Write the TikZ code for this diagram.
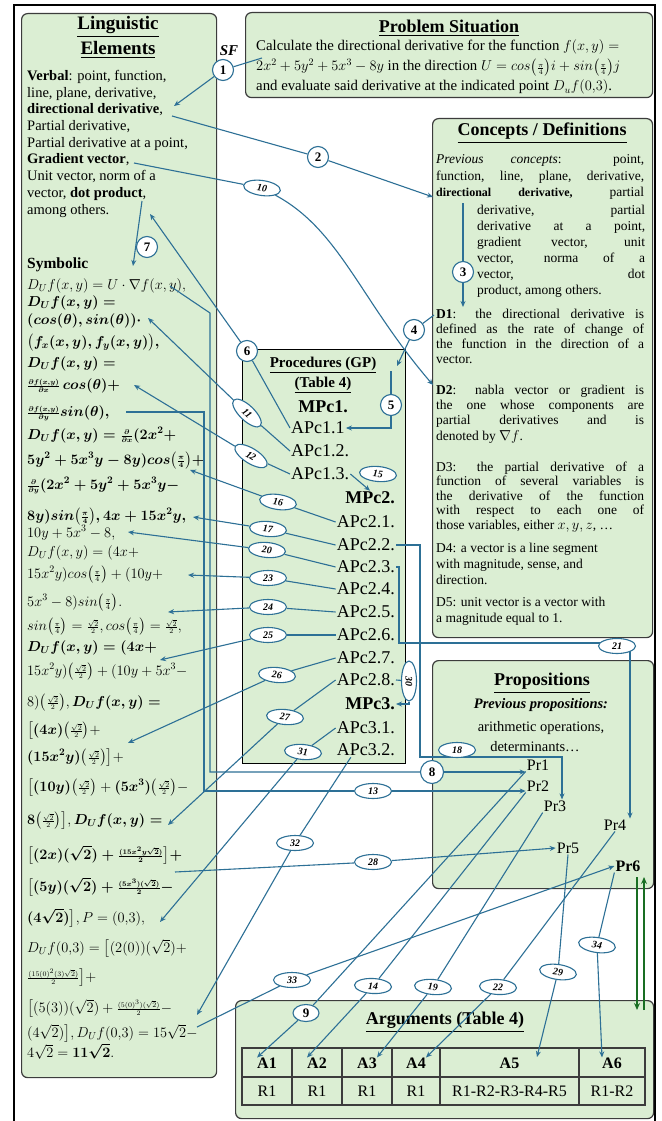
\documentclass[tikz,border=0pt]{standalone}
\usepackage{amsmath}
\usepackage{fontspec}
\setmainfont{Liberation Serif}
\usetikzlibrary{arrows.meta, positioning, shapes.geometric}
\definecolor{panelgreen}{RGB}{219,238,211}
\definecolor{paneledge}{RGB}{60,60,60}
\definecolor{linkblue}{RGB}{45,112,150}
\definecolor{pairgreen}{RGB}{25,110,35}
\newcommand{\jline}[2][208pt]{\makebox[#1][s]{#2}}
\newcommand{\hd}[1]{\underline{#1}}
\newcommand{\sfr}[2]{{\scriptstyle\frac{#1}{#2}}}
\newcommand{\qpi}{\bigl(\sfr{\pi}{4}\bigr)}
\newcommand{\hsq}{\bigl(\sfr{\sqrt{2}}{2}\bigr)}
\newcommand{\bb}[1]{\boldsymbol{#1}}

\begin{document}
\begin{tikzpicture}[x=1pt, y=-1pt,
    panel/.style={rectangle, rounded corners=6pt, draw=paneledge, line width=1.2pt,
                  fill=panelgreen, anchor=north west, inner sep=0},
    title/.style={font=\fontsize{18}{20}\selectfont\bfseries, align=center, inner sep=0},
    vtext/.style={font=\fontsize{14.5}{16.7}\selectfont, align=left, anchor=north west, inner sep=0},
    cblock/.style={align=left, anchor=north west, inner sep=0},
    mline/.style={font=\fontsize{14}{15}\selectfont, anchor=base west, inner sep=0},
    ptext/.style={font=\fontsize{14.8}{16}\selectfont, anchor=base west, inner sep=0},
    apc/.style={font=\fontsize{18}{20}\selectfont, inner sep=1pt},
    prop/.style={font=\fontsize{16}{18}\selectfont, inner sep=1pt},
    cell/.style={font=\fontsize{16}{18}\selectfont, inner sep=0},
    num/.style={circle, draw=linkblue, line width=1.1pt, fill=white,
                font=\fontsize{13}{13}\selectfont\bfseries, inner sep=0, minimum size=21},
    tag/.style={ellipse, draw=linkblue, line width=1.1pt, fill=white,
                font=\fontsize{10}{10}\selectfont\bfseries\itshape, inner sep=0,
                minimum width=37, minimum height=15},
    link/.style={draw=linkblue, line width=1.1pt},
    arr/.style={link, -{Stealth[length=6pt, width=5pt]}},
    pairarr/.style={draw=pairgreen, line width=2pt, -{Stealth[length=7pt, width=6pt]}}
  ]
  \useasboundingbox (0,0) rectangle (661,1121);
  \fill[white] (0,0) rectangle (661,1121);
  \draw[line width=1.5pt] (14,1121) -- (14,5) -- (655,5) -- (655,1121);

  % panels
  \node[panel, minimum width=195, minimum height=1064] (ling) at (21,13) {};
  \node[panel, minimum width=407, minimum height=85] (prob) at (245,12) {};
  \node[panel, minimum width=220, minimum height=519] (conc) at (432,118) {};
  \node[panel, sharp corners, draw=black, minimum width=163, minimum height=414] (proc) at (242,349) {};
  \node[panel, minimum width=221, minimum height=228] (props) at (432,660) {};
  \node[panel, minimum width=418, minimum height=118] (args) at (235,1000) {};

  % linguistic elements
  \node[title, font=\fontsize{19}{25}\selectfont\bfseries] (lingtitle) at (118,37) {\hd{Linguistic}\\\hd{Elements}};
  \node[vtext] (verbal) at (27,70) {\textbf{Verbal}: point, function,\\ line, plane, derivative,\\
    \textbf{directional derivative},\\ Partial derivative,\\ Partial derivative at a point,\\
    \textbf{Gradient vector},\\ Unit vector, norm of a\\ vector, \textbf{dot product},\\ among others.};
  \node[font=\fontsize{15.5}{16}\selectfont\bfseries, anchor=base west, inner sep=0] (symb) at (27,268) {Symbolic};
  \node[mline] (s1) at (27,289) {$D_U f(x,y)=U\cdot\nabla f(x,y),$};
  \node[mline] (s2) at (27,306) {$\bb{D_U f(x,y)=}$};
  \node[mline] (s3) at (27,324) {$\bb{(cos(\theta), sin(\theta))\cdot}$};
  \node[mline] (s4) at (27,346) {$\bb{\bigl(f_x(x,y), f_y(x,y)\bigr),}$};
  \node[mline] (s5) at (27,367) {$\bb{D_U f(x,y)=}$};
  \node[mline] (s6) at (27,389) {$\bb{\sfr{\partial f(x,y)}{\partial x}\,cos(\theta)+}$};
  \node[mline] (s7) at (27,416) {$\bb{\sfr{\partial f(x,y)}{\partial y}sin(\theta),}$};
  \node[mline] (s8) at (27,439) {$\bb{D_U f(x,y)=\sfr{\partial}{\partial x}(2x^2+}$};
  \node[mline] (s9) at (27,464) {$\bb{5y^2+5x^3y-8y)cos\qpi+}$};
  \node[mline] (s10) at (27,489) {$\bb{\sfr{\partial}{\partial y}(2x^2+5y^2+5x^3y-}$};
  \node[mline] (s11) at (27,520) {$\bb{8y)sin\qpi, 4x+15x^2y,}$};
  \node[mline] (s12) at (27,537) {$10y+5x^3-8,$};
  \node[mline] (s13) at (27,556) {$D_U f(x,y)=(4x+$};
  \node[mline] (s14) at (27,578) {$15x^2y)cos\qpi+(10y+$};
  \node[mline] (s15) at (27,606) {$5x^3-8)sin\qpi.$};
  \node[mline] (s16) at (27,630) {$sin\qpi=\sfr{\sqrt{2}}{2}, cos\qpi=\sfr{\sqrt{2}}{2},$};
  \node[mline] (s17) at (27,651) {$\bb{D_U f(x,y)=(4x+}$};
  \node[mline] (s18) at (27,675) {$15x^2y)\hsq+(10y+5x^3-$};
  \node[mline] (s19) at (27,706) {$8)\hsq,\bb{D_U f(x,y)=}$};
  \node[mline] (s20) at (27,734) {$\bigl[\bb{(4x)}\hsq+$};
  \node[mline] (s21) at (27,761) {$\bb{(15x^2y)}\hsq\bigr]+$};
  \node[mline] (s22) at (27,791) {$\bigl[\bb{(10y)}\hsq+\bb{(5x^3)}\hsq-$};
  \node[mline] (s23) at (27,824) {$\bb{8}\hsq\bigr], \bb{D_U f(x,y)=}$};
  \node[mline] (s24) at (27,859) {$\bb{\bigl[(2x)(\sqrt{2})+\sfr{(15x^2y\sqrt{2})}{2}\bigr]+}$};
  \node[mline] (s25) at (27,891) {$\bb{\bigl[(5y)(\sqrt{2})+\sfr{(5x^3)(\sqrt{2})}{2}-}$};
  \node[mline] (s26) at (27,922) {$\bb{(4\sqrt{2})\bigr]}, P=(0{,}3),$};
  \node[mline] (s27) at (27,952) {$D_U f(0{,}3)=\bigl[(2(0))(\sqrt{2})+$};
  \node[mline] (s28) at (27,981) {$\sfr{(15(0)^2(3)\sqrt{2})}{2}\bigr]+$};
  \node[mline] (s29) at (27,1012) {$\bigl[(5(3))(\sqrt{2})+\sfr{(5(0)^3)(\sqrt{2})}{2}-$};
  \node[mline] (s30) at (27,1037) {$(4\sqrt{2})\bigr], D_U f(0{,}3)=15\sqrt{2}-$};
  \node[mline] (s31) at (27,1057) {$4\sqrt{2}=\bb{11\sqrt{2}}.$};

  % problem situation
  \node[font=\fontsize{15}{15}\selectfont\bfseries\itshape] (sf) at (229,51) {SF};
  \node[title] (probtitle) at (449,28) {\hd{Problem Situation}};
  \node[ptext] (p1) at (256,51) {Calculate the directional derivative for the function $f(x,y)=$};
  \node[ptext] (p2) at (256,71) {$2x^2+5y^2+5x^3-8y$ in the direction $U=cos\qpi i+sin\qpi j$};
  \node[ptext] (p3) at (256,91) {and evaluate said derivative at the indicated point $D_uf(0{,}3)$.};

  % concepts / definitions
  \node[title] (conctitle) at (542,133) {\hd{Concepts / Definitions}};
  \node[cblock, font=\fontsize{13.5}{16.5}\selectfont] (prevc) at (436,154.7) {%
    \jline{\textit{Previous concepts}: point,}\\
    \jline{function, line, plane, derivative,}\\
    \jline{{\fontsize{12}{14}\selectfont\bfseries directional derivative,} partial}};
  \node[cblock, font=\fontsize{13.5}{16}\selectfont] (prevd) at (477,204.7) {%
    \jline[168pt]{derivative, partial}\\ \jline[168pt]{derivative at a point,}\\
    \jline[168pt]{gradient vector, unit}\\ \jline[168pt]{vector, norma of a}\\
    \jline[168pt]{vector, dot}\\ product, among others.};
  \node[cblock, font=\fontsize{13.5}{15}\selectfont] (def1) at (436,308.7) {%
    \jline{\textbf{D1}: the directional derivative is}\\
    \jline{defined as the rate of change of}\\
    \jline{the function in the direction of a}\\ vector.};
  \node[cblock, font=\fontsize{13.5}{15.3}\selectfont] (def2) at (436,384.7) {%
    \jline{\textbf{D2}: nabla vector or gradient is}\\
    \jline{the one whose components are}\\
    \jline{partial derivatives and is}\\ denoted by $\nabla f$.};
  \node[cblock, font=\fontsize{13.5}{14.5}\selectfont] (def3) at (436,461.7) {%
    \jline{D3: the partial derivative of a}\\
    \jline{function of several variables is}\\
    \jline{the derivative of the function}\\
    \jline{with respect to each one of}\\ those variables, either $x, y, z$, \dots};
  \node[cblock, font=\fontsize{13.5}{16}\selectfont] (def4) at (436,542.7) {%
    D4: a vector is a line segment\\ with magnitude, sense, and\\ direction.};
  \node[cblock, font=\fontsize{13.5}{16}\selectfont] (def5) at (436,596.7) {%
    D5: unit vector is a vector with\\ a magnitude equal to 1.};

  % procedures
  \node[title, font=\fontsize{15}{20}\selectfont\bfseries] (proctitle) at (323,375) {\hd{Procedures (GP)}\\\hd{(Table 4)}};
  \node[apc, font=\fontsize{18}{20}\selectfont\bfseries] (mpc1) at (323,407) {MPc1.};
  \node[apc, anchor=west] (apc11) at (290,428) {APc1.1};
  \node[apc, anchor=west] (apc12) at (290,451) {APc1.2.};
  \node[apc, anchor=west] (apc13) at (290,474) {APc1.3.};
  \node[apc, anchor=east, font=\fontsize{18}{20}\selectfont\bfseries] (mpc2) at (396,498) {MPc2.};
  \foreach \b/\y in {1/522,2/545,3/567,4/589,5/612,6/635,7/658,8/680}
    \node[apc, anchor=east] (apc2\b) at (396,\y) {APc2.\b.};
  \node[apc, anchor=east, font=\fontsize{18}{20}\selectfont\bfseries] (mpc3) at (396,704) {MPc3.};
  \foreach \b/\y in {1/728,2/750}
    \node[apc, anchor=east] (apc3\b) at (396,\y) {APc3.\b.};

  % propositions
  \node[title] (proptitle) at (542,683) {\hd{Propositions}};
  \node[font=\fontsize{14.5}{16}\selectfont\bfseries\itshape] (prevprop) at (541,705) {Previous propositions:};
  \node[font=\fontsize{14.5}{16}\selectfont] (arith) at (541,728) {arithmetic operations,};
  \node[font=\fontsize{14.5}{16}\selectfont] (determ) at (535,747) {determinants\dots};
  \node[prop] (pr1) at (538,765) {Pr1};
  \node[prop] (pr2) at (538,786) {Pr2};
  \node[prop] (pr3) at (555,806) {Pr3};
  \node[prop] (pr4) at (615,825) {Pr4};
  \node[prop] (pr5) at (568,848) {Pr5};
  \node[prop, font=\fontsize{16}{18}\selectfont\bfseries] (pr6) at (628,866) {Pr6};

  % arguments
  \node[title] (argtitle) at (445,1022) {\hd{Arguments (Table 4)}};
  \draw[line width=1.2pt, draw=paneledge] (242,1048) rectangle (645,1105);
  \draw[line width=1.2pt, draw=paneledge] (242,1077) -- (645,1077);
  \foreach \x in {292,342,392,440,579}
    \draw[line width=1.2pt, draw=paneledge] (\x,1048) -- (\x,1105);
  \foreach \x/\lab [count=\i] in {267/A1,317/A2,367/A3,416/A4,509.5/A5,612/A6}
    \node[cell, font=\fontsize{16}{18}\selectfont\bfseries] (a\i) at (\x,1063) {\lab};
  \foreach \x/\lab [count=\i] in {267/R1,317/R1,367/R1,416/R1,509.5/R1-R2-R3-R4-R5,612/R1-R2}
    \node[cell] (r\i) at (\x,1091) {\lab};

  % numbered marks
  \node[num] (n1) at (223,70) {1};
  \node[num] (n2) at (318,157) {2};
  \node[num] (n3) at (463,272) {3};
  \node[num] (n4) at (414,330) {4};
  \node[num] (n5) at (391,405) {5};
  \node[num] (n6) at (247,351) {6};
  \node[num, minimum size=23] (n8) at (432,772) {8};
  \node[tag, font=\fontsize{13}{13}\selectfont\bfseries, minimum width=26, minimum height=17] (e9) at (306,1013) {9};
  \node[tag, rotate=-8] (e10) at (262,188) {10};
  \node[tag, rotate=-44] (e11) at (247,413) {11};
  \node[tag, rotate=-32] (e12) at (251,456) {12};
  \node[tag] (e13) at (373,791) {13};
  \node[tag, rotate=-3] (e14) at (373,986) {14};
  \node[tag, rotate=-8] (e16) at (278,502) {16};
  \node[tag, rotate=-5] (e17) at (268,529) {17};
  \node[tag, rotate=-5] (e19) at (433,987) {19};
  \node[tag, rotate=-5] (e20) at (267,550) {20};
  \node[tag, rotate=-3] (e22) at (498,987) {22};
  \node[tag] (e23) at (268,578) {23};
  \node[tag] (e24) at (268,607) {24};
  \node[tag] (e25) at (268,635) {25};
  \node[tag, rotate=-5] (e26) at (277,675) {26};
  \node[tag, rotate=-5] (e27) at (285,717) {27};
  \node[tag] (e28) at (373,862) {28};
  \node[tag, rotate=-8] (e29) at (558,972) {29};
  \node[tag, rotate=-90, minimum width=40] (e30) at (409,681) {30};
  \node[tag, rotate=-5] (e31) at (303,752) {31};
  \node[tag] (e32) at (295,843) {32};
  \node[tag] (e33) at (292,980) {33};
  \node[tag, rotate=-8] (e34) at (597,945) {34};

  % text anchors
  \coordinate (c1a) at (262,58);   \coordinate (c1b) at (174,106);
  \coordinate (c2a) at (172,116);  \coordinate (c2b) at (433,197);
  \coordinate (c3a) at (463,203);  \coordinate (c3b) at (463,307);
  \coordinate (c4a) at (434,315);  \coordinate (c4b) at (397,366);
  \coordinate (c5a) at (391,371);  \coordinate (c6) at (150,214);
  \coordinate (c7a) at (142,201);  \coordinate (c7b) at (133,266);
  \coordinate (c8) at (170,286);
  \coordinate (c10a) at (134,163); \coordinate (c10b) at (433,385);
  \coordinate (c11) at (148,318);  \coordinate (c12) at (134,385);
  \coordinate (c13) at (126,412);  \coordinate (c16) at (190,470);
  \coordinate (c17) at (193,517);  \coordinate (c20) at (128,532);
  \coordinate (c23) at (188,575);  \coordinate (c24) at (168,612);
  \coordinate (c25) at (160,660);  \coordinate (c26) at (128,743);
  \coordinate (c27) at (168,825);  \coordinate (c28) at (175,872);
  \coordinate (c31) at (160,922);  \coordinate (c32) at (197,1015);
  \coordinate (c33) at (197,1027); \coordinate (a5tip) at (537,1057);
  \coordinate (k18) at (562,757);  \coordinate (k21) at (630,643);
  \coordinate (g1) at (637,877);   \coordinate (g2) at (637,1010);
  \coordinate (g3) at (644,1010);  \coordinate (g4) at (644,877);

  % connectors
  \draw[link] (c1a) -- (n1);  \draw[arr] (n1) -- (c1b);
  \draw[link] (c2a) -- (n2);  \draw[arr] (n2) -- (c2b);
  \draw[link] (c3a) -- (n3);  \draw[arr] (n3) -- (c3b);
  \draw[link] (c4a) -- (n4);  \draw[arr] (n4) -- (c4b);
  \draw[link] (c5a) -- (n5);  \draw[arr] (n5) |- (apc11.east);
  \draw[link] (apc11.west) -- (n6);  \draw[arr] (n6) -- (c6);
  \draw[arr] (c7a) -- (c7b);
  \draw[link] (c8) -- ++(40,27) |- (n8);  \draw[arr] (n8) -- (n8 -| pr1.west);
  \draw[link] (c10a) -- (e10);
  \draw[arr] (e10) .. controls (340,230) and (360,300) .. (c10b);
  \draw[link] (apc12.west) -- (e11);  \draw[arr] (e11) -- (c11);
  \draw[link] (apc13.west) -- (e12);  \draw[arr] (e12) -- (c12);
  \draw[link] (c13) -- ++(78,0) |- (e13);  \draw[arr] (e13) -- (e13 -| pr2.west);
  \draw[arr] (apc13.east) -- (mpc2.north);
  \draw[link] (apc21.west) -- (e16);  \draw[arr] (e16) -- (c16);
  \draw[link] (apc22.west) -- (e17);  \draw[arr] (e17) -- (c17);
  \draw[link] (apc23.west) -- (e20);  \draw[arr] (e20) -- (c20);
  \draw[link] (apc24.west) -- (e23);  \draw[arr] (e23) -- (c23);
  \draw[link] (apc25.west) -- (e24);  \draw[arr] (e24) -- (c24);
  \draw[link] (apc26.west) -- (e25);  \draw[arr] (e25) -- (c25);
  \draw[link] (apc27.west) -- (e26);  \draw[arr] (e26) -- (c26);
  \draw[link] (apc28.west) -- (e27);  \draw[arr] (e27) -- (c27);
  \draw[link] (apc31.west) -- (e31);  \draw[arr] (e31) -- (c31);
  \draw[link] ([xshift=-15pt]apc32.south) -- (e32);  \draw[arr] (e32) -- (c32);
  \draw[arr] (apc22.east) -| (420,757) -- (k18) -- (k18 |- pr3.north);
  \draw[arr] (apc23.east) -| (399,643) -- (k21) -- (k21 |- pr4.north);
  \draw[link] (apc28.east) -- (e30);  \draw[arr] (e30.east) |- (mpc3.east);
  \draw[link] (c28) -- (e28);  \draw[arr] (e28) -- (pr5.west);
  \draw[link] (c33) -- (e33);  \draw[arr] (e33) -- (pr6.west);
  \draw[link] (pr1.south west) -- (e9);   \draw[arr] (e9) -- (a1.north west);
  \draw[link] (pr2.south west) -- (e14);  \draw[arr] (e14) -- (a2.north west);
  \draw[link] (pr3.south west) -- (e19);  \draw[arr] (e19) -- (a3.north east);
  \draw[link] (pr4.south) -- (e22);       \draw[arr] (e22) -- (a4.north east);
  \draw[link] (pr5.south) -- (e29);       \draw[arr] (e29) -- (a5tip);
  \draw[link] (pr6.south west) -- (e34);  \draw[arr] (e34) -- (a6.north west);
  \draw[pairarr] (g1) -- (g2);
  \draw[pairarr] (g3) -- (g4);

  % marks sitting beside their lines
  \node[num] (n7) at (147,247) {7};
  \node[tag, rotate=-5] (e15) at (378,474) {15};
  \node[tag] (e18) at (457,750) {18};
  \node[tag] (e21) at (617,646) {21};
\end{tikzpicture}
\end{document}
